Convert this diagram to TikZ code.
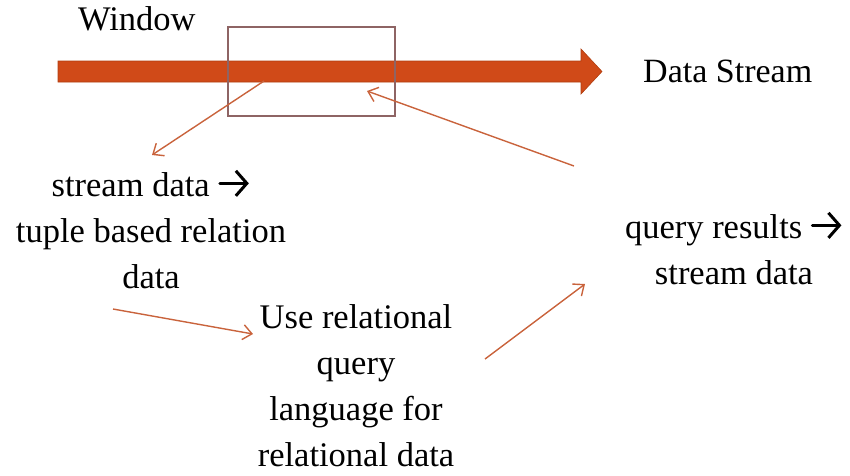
\documentclass[tikz,border=0pt]{standalone}
\usepackage{fontspec}
\setmainfont{Liberation Serif}
\usetikzlibrary{arrows.meta}
\definecolor{streamfill}{HTML}{D04A18}
\definecolor{streamedge}{HTML}{B03E10}
\definecolor{winedge}{HTML}{8E6464}
\definecolor{linkcol}{HTML}{C9633C}
% heavy inline arrow used after a label
\newcommand{\ra}{\tikz[baseline=-13pt,x=1pt,y=1pt]\draw[line width=3pt,line cap=round,-{Straight Barb[length=11pt,width=25pt,line width=3pt]}] (0,0) -- (29,0);}
\begin{document}
\begin{tikzpicture}[x=1pt,y=-1pt,
  body/.style={align=center,inner sep=0pt,font=\fontsize{34.5}{46}\selectfont},
  title/.style={inner sep=0pt,font=\fontsize{34.5}{40}\selectfont},
  link/.style={draw=linkcol,line width=1.4pt,-{Straight Barb[length=9pt,width=15pt,line width=1.4pt]}},
  winbox/.style={draw=winedge,line width=1.2pt}]
\useasboundingbox (0,0) rectangle (850,475);

% data stream arrow
\filldraw[fill=streamfill,draw=streamedge,line width=0.6pt]
  (58,61) -- (581,61) -- (581,49) -- (602,71.5) -- (581,94) -- (581,82) -- (58,82) -- cycle;

% sliding window
\draw[winbox] (228,27) rectangle (395,116);
\coordinate (winIn) at (264,81);
\coordinate (winOut) at (367,91);

% labels
\node[title,anchor=base west] (win) at (78,30) {Window};
\node[title,anchor=base west,font=\fontsize{34}{40}\selectfont] (ds) at (643,82) {Data Stream};

\node[body] (s2r) at (151,229) {stream data \ra\\tuple based relation\\data};
\node[body] (rel) at (356,386) {Use relational\\query\\language for\\relational data};
\node[body] (q2s) at (734,248) {query results \ra\\stream data};

% connectors
\coordinate (a1) at (152,155);
\coordinate (a2s) at (113,309);
\coordinate (a2e) at (253,334);
\coordinate (a3s) at (485,359);
\coordinate (a3e) at (585,284);
\coordinate (a4s) at (574,166);

\draw[link] (winIn) -- (a1);
\draw[link] (a2s) -- (a2e);
\draw[link] (a3s) -- (a3e);
\draw[link] (a4s) -- (winOut);
\end{tikzpicture}
\end{document}
